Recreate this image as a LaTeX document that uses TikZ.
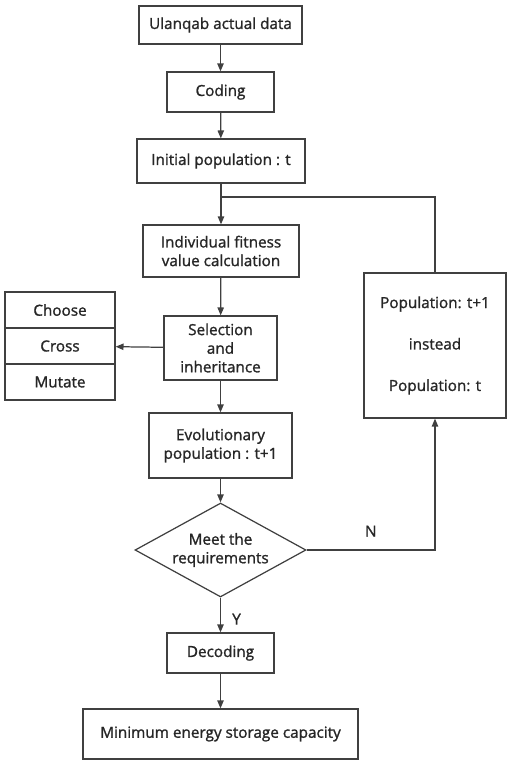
\documentclass[tikz,border=0pt]{standalone}
\usepackage{fontspec}
\setmainfont{Open Sans}
\newfontfamily\flowfont[FakeBold=1.3]{Open Sans}
\usetikzlibrary{shapes.geometric,arrows.meta}

\begin{document}
\begin{tikzpicture}[
	x=0.02cm, y=-0.02cm,
	% Define the styles for the nodes and the arrows
	every node/.style={font=\flowfont\fontsize{8.7}{10.6}\selectfont, text=black!85},
	stepbox/.style={rectangle, draw=black!75, line width=0.7pt, inner sep=0pt, align=center},
	testbox/.style={diamond, draw=black!75, line width=0.7pt, inner sep=0pt, aspect=1.82, align=center,
		minimum width=3.42cm, minimum height=1.88cm},
	flow/.style={draw=black!75, line width=0.7pt, -{Triangle[length=4.5pt,width=3.6pt]}},
	line/.style={draw=black!75, line width=0.7pt}
	]
	
	\useasboundingbox (0,0) rectangle (512,763);
	
	% --- MAIN COLUMN ---
	% Format: \node (internal_name) at (x,y) [size] {text};
	
	\node (data) at (220.5, 25)  [stepbox, minimum width=3.26cm, minimum height=0.76cm] {Ulanqab actual data};
	\node (code) at (220.5, 92)  [stepbox, minimum width=2.14cm, minimum height=0.80cm] {Coding};
	\node (init) at (221, 161)   [stepbox, minimum width=3.36cm, minimum height=0.88cm] {Initial population : t};
	\node (fit)  at (221, 251)   [stepbox, minimum width=3.12cm, minimum height=1.04cm] {Individual fitness\\value calculation};
	\node (sel)  at (220.5, 348) [stepbox, minimum width=2.26cm, minimum height=1.28cm] {Selection\\and\\inheritance};
	\node (evo)  at (220.5, 445.5) [stepbox, minimum width=2.86cm, minimum height=1.30cm] {Evolutionary\\population : t+1};
	\node (meet) at (220.5, 550) [testbox] {Meet the\\requirements};
	\node (dec)  at (220.5, 653) [stepbox, minimum width=2.14cm, minimum height=0.80cm] {Decoding};
	\node (cap)  at (220.5, 734) [stepbox, minimum width=5.50cm, minimum height=1.00cm] {Minimum energy storage capacity};
	
	% --- OPERATORS ---
	\node (choose) at (60, 310) [stepbox, minimum width=2.20cm, minimum height=0.72cm] {Choose};
	\node (cross)  at (60, 346) [stepbox, minimum width=2.20cm, minimum height=0.72cm] {Cross};
	\node (mutate) at (60, 382) [stepbox, minimum width=2.20cm, minimum height=0.72cm] {Mutate};
	
	% --- REPLACEMENT ---
	\node (swap) at (435, 345.5) [stepbox, minimum width=2.84cm, minimum height=2.90cm]
		{Population: t+1\\[13pt]instead\\[13pt]Population: t};
	
	\coordinate (join) at (221, 197);
	
	% --- EDGES ---
	\draw[flow] (data) -- (code);
	\draw[flow] (code) -- (init);
	\draw[flow] (init) -- (fit);
	\draw[flow] (fit) -- (sel);
	\draw[flow] (sel) -- (cross);
	\draw[flow] (sel) -- (evo);
	\draw[flow] (evo) -- (meet);
	\draw[flow] (meet) -- node[right=3pt, pos=0.62] {Y} (dec);
	\draw[flow] (dec) -- (cap);
	\draw[flow] (meet.east) -- node[above=4pt, pos=0.5] {N} (435, 550) -- (swap.south);
	\draw[line] (swap.north) |- (join);
	
\end{tikzpicture}
\end{document}
